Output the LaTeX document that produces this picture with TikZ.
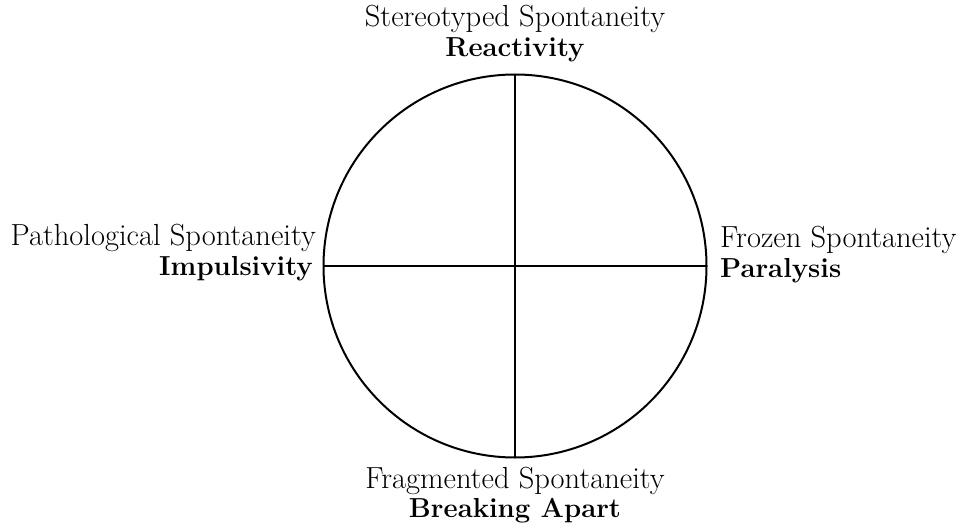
\documentclass[tikz,border=0pt]{standalone}
\begin{document}
\begin{tikzpicture}[x=1pt,y=-1pt,
  lbl/.style={inner sep=0pt,font=\fontsize{30.5}{32}\selectfont},
  blbl/.style={inner sep=0pt,font=\fontsize{27.5}{32}\selectfont\bfseries},
  ln/.style={line width=2pt}]
\useasboundingbox (0,0) rectangle (960,524);
\coordinate (c) at (515,266);
\draw[ln] (c) circle[radius=191.5pt];
\coordinate (l) at (323.5,266);
\coordinate (r) at (706.5,266);
\coordinate (t) at (515,74.5);
\coordinate (b) at (515,457.5);
\draw[ln] (l) -- (r);
\draw[ln] (t) -- (b);
\node[lbl,anchor=base] (t1) at (515,27) {Stereotyped Spontaneity};
\node[blbl,anchor=base] (t2) at (515,57) {Reactivity};
\node[lbl,anchor=base east] (l1) at (316,245) {Pathological Spontaneity};
\node[blbl,anchor=base east] (l2) at (313,275) {Impulsivity};
\node[lbl,anchor=base west] (r1) at (720,247) {Frozen Spontaneity};
\node[blbl,anchor=base west] (r2) at (720,277) {Paralysis};
\node[lbl,anchor=base] (b1) at (515,488) {Fragmented Spontaneity};
\node[blbl,anchor=base] (b2) at (515,517) {Breaking Apart};
\end{tikzpicture}
\end{document}
